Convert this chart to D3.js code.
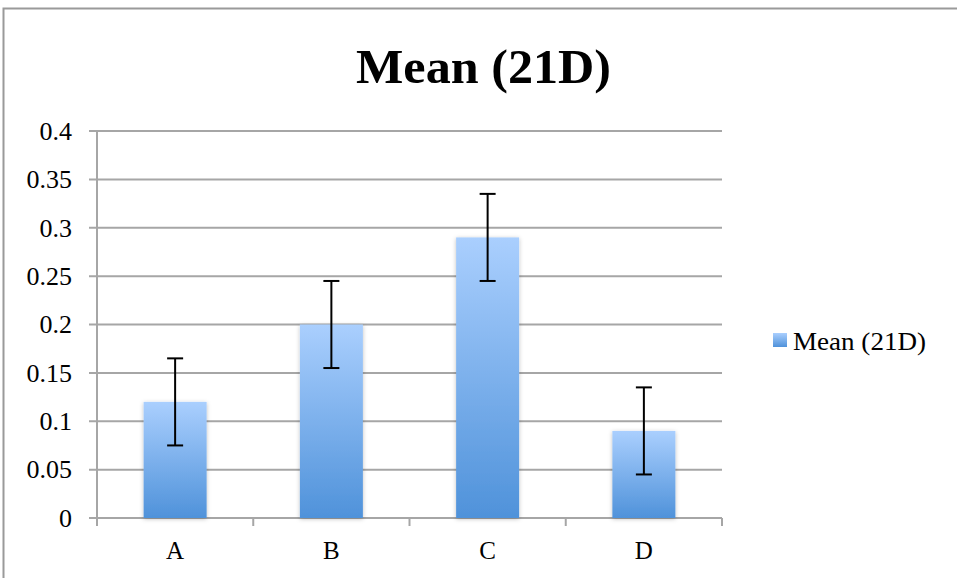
<!DOCTYPE html>
<html><head><meta charset="utf-8">
<script src="https://cdn.jsdelivr.net/npm/d3@7"></script>
<style>body{margin:0;background:#fff}</style>
</head><body>
<svg id="c" width="957" height="578"></svg>
<script>
const categories = ["A","B","C","D"];
const means = [0.12, 0.20, 0.29, 0.09];
const errors = [0.045, 0.045, 0.045, 0.045];
const yTicks = [0,0.05,0.1,0.15,0.2,0.25,0.3,0.35,0.4];
const yTickLabels = ["0","0.05","0.1","0.15","0.2","0.25","0.3","0.35","0.4"];
const seriesName = "Mean (21D)";

const svg = d3.select("#c");
const L=97, R=722, T=131, B=518;
const xb = d3.scaleBand().domain(categories).range([L,R]);
const y = d3.scaleLinear().domain([0,0.4]).range([B,T]);

const defs = svg.append("defs");
const g = defs.append("linearGradient").attr("id","bg").attr("x1",0).attr("y1",0).attr("x2",0).attr("y2",1);
g.append("stop").attr("offset","0%").attr("stop-color","#aacffe");
g.append("stop").attr("offset","100%").attr("stop-color","#4f92da");
const f = defs.append("filter").attr("id","sh").attr("x","-20%").attr("y","-20%").attr("width","140%").attr("height","140%");
f.append("feDropShadow").attr("dx",0).attr("dy",1).attr("stdDeviation",2).attr("flood-color","#000").attr("flood-opacity",0.25);

// border
svg.append("path").attr("d","M3.5,578 V8.5 H957").attr("fill","none").attr("stroke","#9a9a9a").attr("stroke-width",2);

// gridlines
svg.append("g").selectAll("line").data(yTicks).join("line")
  .attr("x1",L-8).attr("x2",R).attr("y1",d=>y(d)).attr("y2",d=>y(d))
  .attr("stroke","#a6a6a6").attr("stroke-width",2);
// y axis line
svg.append("line").attr("x1",L).attr("x2",L).attr("y1",T).attr("y2",B+8).attr("stroke","#a6a6a6").attr("stroke-width",2);
// x ticks
const xt = categories.map(c=>xb(c)).concat([R]);
svg.append("g").selectAll("line").data(xt).join("line")
  .attr("x1",d=>d).attr("x2",d=>d).attr("y1",B).attr("y2",B+8)
  .attr("stroke","#a6a6a6").attr("stroke-width",2);

const font = "Liberation Serif, serif";
// y labels
svg.append("g").selectAll("text").data(yTicks).join("text")
  .attr("x",72).attr("y",d=>y(d)).attr("dy","0.34em").attr("text-anchor","end")
  .attr("font-family",font).attr("font-size",26).attr("fill","#000")
  .text((d,i)=>yTickLabels[i]);
// x labels
svg.append("g").selectAll("text").data(categories).join("text")
  .attr("x",d=>xb(d)+xb.bandwidth()/2).attr("y",559).attr("text-anchor","middle")
  .attr("font-family",font).attr("font-size",25).attr("fill","#000")
  .text(d=>d);

// bars
const bw = 63;
svg.append("g").selectAll("rect").data(categories).join("rect")
  .attr("x",d=>xb(d)+xb.bandwidth()/2-bw/2).attr("width",bw)
  .attr("y",(d,i)=>y(means[i])).attr("height",(d,i)=>B-y(means[i]))
  .attr("fill","url(#bg)").attr("filter","url(#sh)");

// error bars
const eg = svg.append("g").attr("stroke","#000").attr("stroke-width",2);
categories.forEach((c,i)=>{
  const cx = xb(c)+xb.bandwidth()/2;
  const y1=y(means[i]+errors[i]), y2=y(means[i]-errors[i]);
  eg.append("line").attr("x1",cx).attr("x2",cx).attr("y1",y1).attr("y2",y2);
  eg.append("line").attr("x1",cx-8).attr("x2",cx+8).attr("y1",y1).attr("y2",y1);
  eg.append("line").attr("x1",cx-8).attr("x2",cx+8).attr("y1",y2).attr("y2",y2);
});

// title
svg.append("text").attr("x",356).attr("y",83)
  .attr("font-family",font).attr("font-weight","bold").attr("font-size",48)
  .attr("textLength",255).attr("lengthAdjust","spacingAndGlyphs")
  .attr("fill","#000").text(seriesName);

// legend
svg.append("rect").attr("x",773).attr("y",333).attr("width",14).attr("height",14).attr("fill","url(#bg)");
svg.append("text").attr("x",793).attr("y",350).attr("font-family",font).attr("font-size",25)
  .attr("textLength",133).attr("lengthAdjust","spacingAndGlyphs")
  .attr("fill","#000").text(seriesName);
</script>
</body></html>
